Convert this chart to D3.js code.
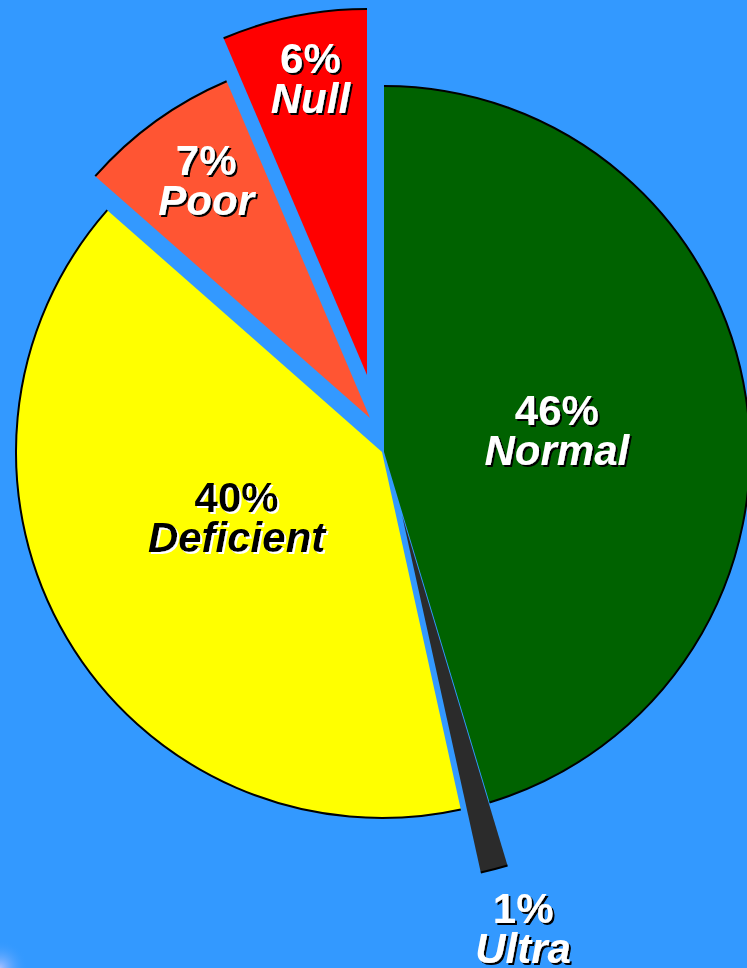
<!DOCTYPE html>
<html>
<head>
<meta charset="utf-8">
<script src="https://cdn.jsdelivr.net/npm/d3@7/dist/d3.min.js"></script>
<style>
  html, body { margin: 0; padding: 0; background: #3399ff; }
  svg { display: block; }
</style>
</head>
<body>
<svg id="chart" width="747" height="968"></svg>
<script>
// ---- data ----
const categories = ["Normal", "Ultra", "Deficient", "Poor", "Null"];
const values = [45.3, 1.2, 39.9, 7.1, 6.4];
const pctLabels = ["46%", "1%", "40%", "7%", "6%"];

// ---- style / layout ----
const colors = ["#006200", "#2b2b2b", "#ffff00", "#ff5533", "#ff0000"];
const textColors = ["#ffffff", "#ffffff", "#000000", "#ffffff", "#ffffff"];
const shadowColors = ["#000000", "#000000", "#ffffff", "#000000", "#000000"];
const explodeOffsets = [[1, 0], [19, 63], [-1, 0], [-13, -34], [-16, -77]];
const labelRadius = [173, 445, 166, 277, 288];
const labelAngleShift = [6.2, -1.2, 1.7, -0.4, 0.2];

const W = 747, H = 968;
const cx = 383, cy = 452, R = 366;

const svg = d3.select("#chart");
svg.append("rect").attr("width", W).attr("height", H).attr("fill", "#3399ff");

const defs = svg.append("defs");
// faint glow bottom-left corner
const rg = defs.append("radialGradient").attr("id", "glow");
rg.append("stop").attr("offset", "0%").attr("stop-color", "#d8d0ff").attr("stop-opacity", 0.7);
rg.append("stop").attr("offset", "100%").attr("stop-color", "#3399ff").attr("stop-opacity", 0);
svg.append("circle").attr("cx", 0).attr("cy", H).attr("r", 28).attr("fill", "url(#glow)");

// drop-shadow filters for labels
["#000000", "#ffffff"].forEach((c, k) => {
  const f = defs.append("filter").attr("id", "shadow" + k)
    .attr("x", "-10%").attr("y", "-30%").attr("width", "130%").attr("height", "170%");
  f.append("feDropShadow").attr("dx", 2).attr("dy", 2).attr("stdDeviation", 0)
    .attr("flood-color", c).attr("flood-opacity", 1);
});

const pie = d3.pie().sort(null).value(d => d.value);
const data = categories.map((c, i) => ({ name: c, value: values[i], i }));
const arcs = pie(data);

const arcGen = d3.arc().innerRadius(0).outerRadius(R);

const g = svg.append("g").attr("transform", `translate(${cx},${cy})`);

const slices = g.selectAll("g.slice").data(arcs).enter().append("g")
  .attr("class", "slice")
  .attr("transform", d => `translate(${explodeOffsets[d.index][0]},${explodeOffsets[d.index][1]})`);

slices.append("path")
  .attr("d", arcGen)
  .attr("fill", d => colors[d.index]);

// outer arc outline only
slices.append("path")
  .attr("d", d => {
    const p = d3.path();
    const a0 = d.startAngle - Math.PI / 2, a1 = d.endAngle - Math.PI / 2;
    p.moveTo(R * Math.cos(a0), R * Math.sin(a0));
    p.arc(0, 0, R, a0, a1, false);
    return p.toString();
  })
  .attr("fill", "none")
  .attr("stroke", "#000")
  .attr("stroke-width", 2);

// labels
const fontFamily = "'Liberation Sans', Arial, Helvetica, sans-serif";
slices.each(function(d) {
  const i = d.index;
  const mid = (d.startAngle + d.endAngle) / 2 + labelAngleShift[i] * Math.PI / 180;
  const lx = labelRadius[i] * Math.sin(mid);
  const ly = -labelRadius[i] * Math.cos(mid);
  const t = d3.select(this).append("text")
    .attr("transform", `translate(${lx},${ly})`)
    .attr("text-anchor", "middle")
    .attr("font-family", fontFamily)
    .attr("font-weight", "bold")
    .attr("font-size", 42)
    .attr("fill", textColors[i])
    .attr("filter", shadowColors[i] === "#000000" ? "url(#shadow0)" : "url(#shadow1)");
  t.append("tspan").attr("x", 0).attr("y", -20).text(pctLabels[i]);
  t.append("tspan").attr("x", 0).attr("y", 20).attr("font-style", "italic").text(categories[i]);
});
</script>
</body>
</html>
